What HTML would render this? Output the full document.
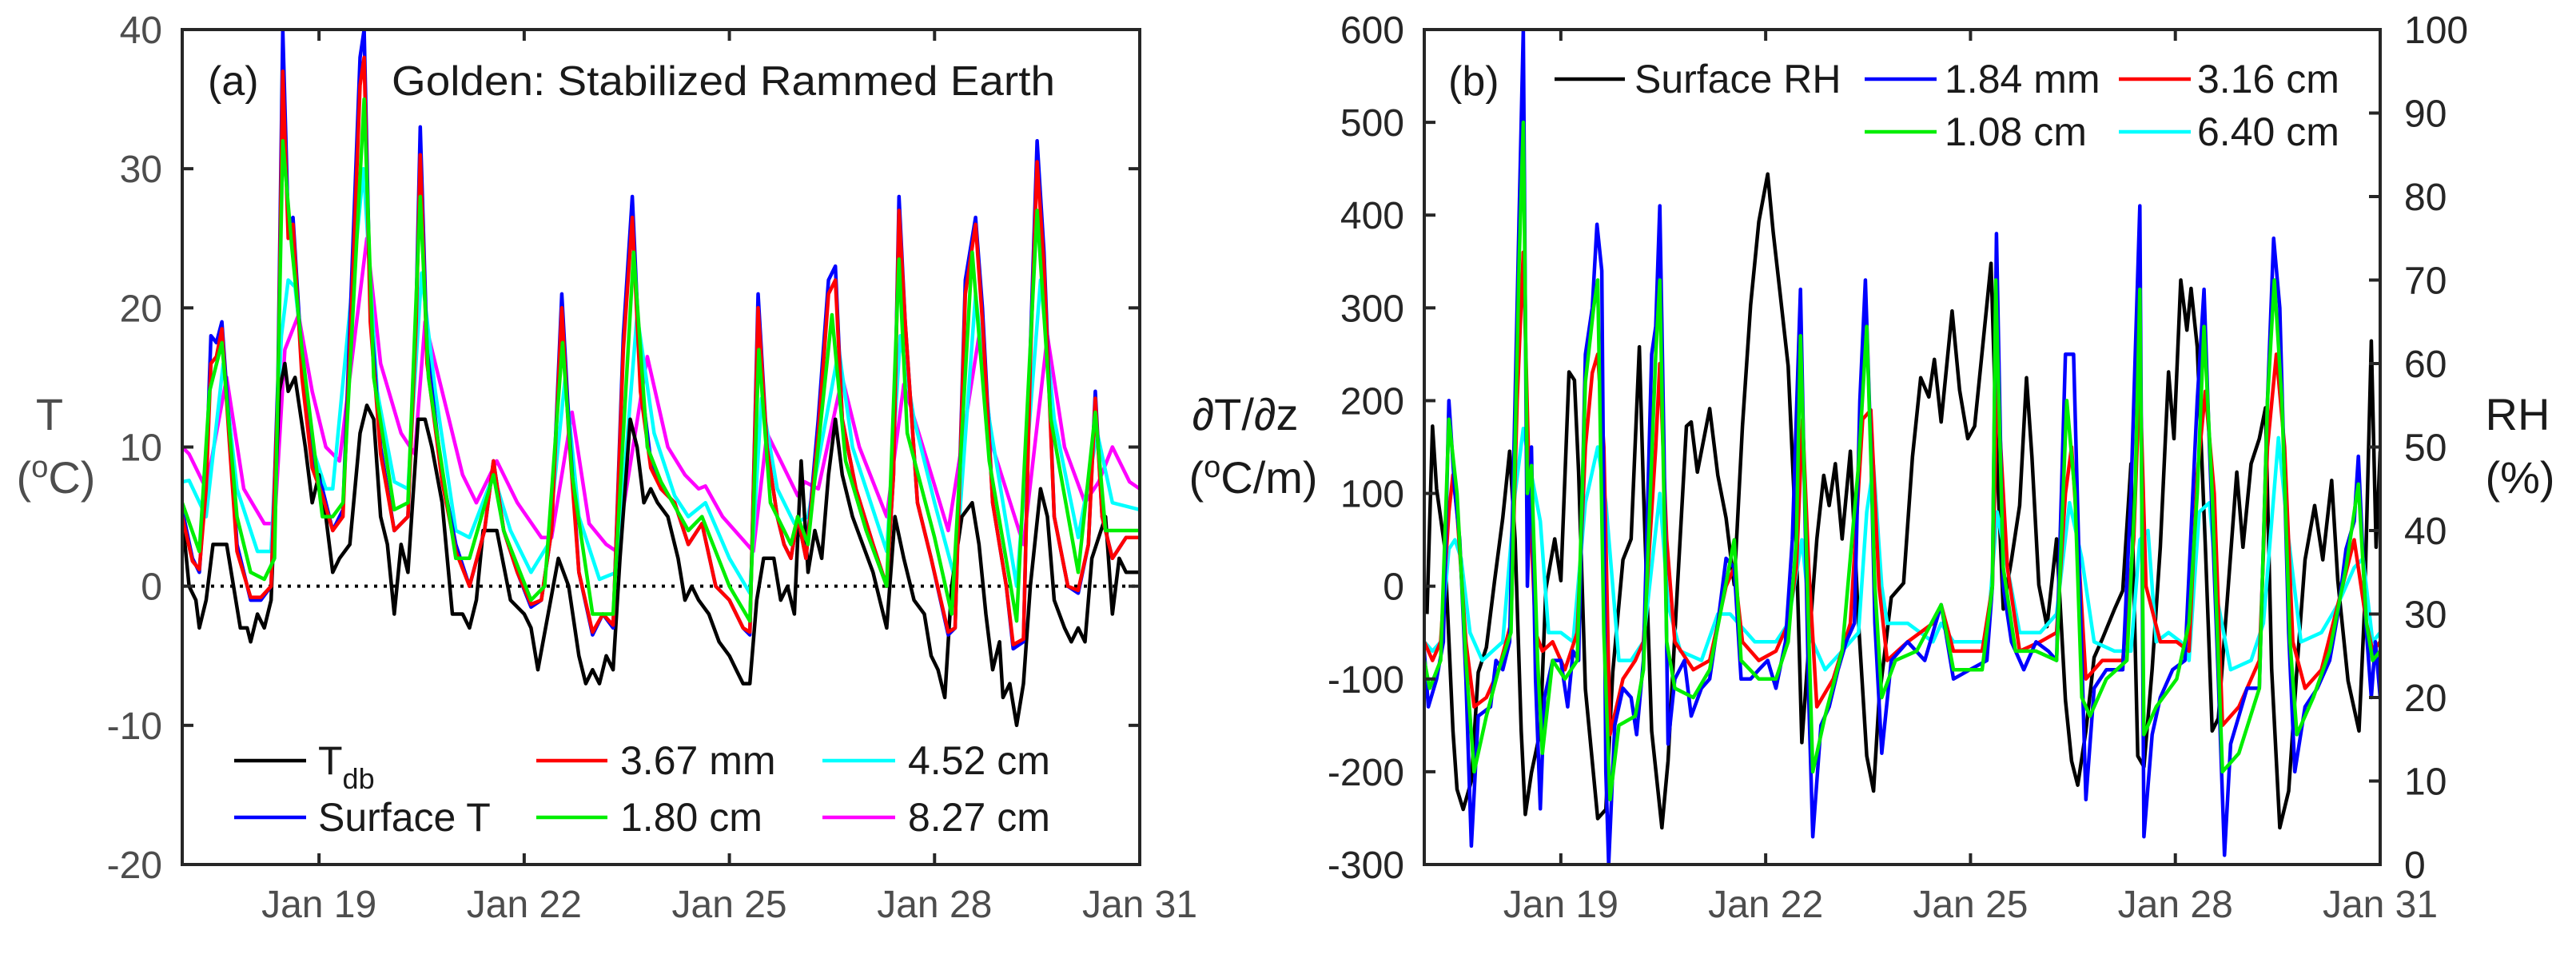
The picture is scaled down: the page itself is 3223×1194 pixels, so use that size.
<!DOCTYPE html>
<html><head><meta charset="utf-8"><style>
html,body{margin:0;padding:0;background:#fff;}
svg{display:block;font-family:"Liberation Sans",Arial,sans-serif;}
</style></head><body>
<svg id="fig" width="3223" height="1194" viewBox="0 0 3223 1194" xmlns="http://www.w3.org/2000/svg"></svg>
<script>
// ---------- Panel (a) data: [day since Jan 17, °C] ----------
const tdb = [[0,5],[0.1,0],[0.2,-1],[0.25,-3],[0.35,-1],[0.45,3],[0.65,3],[0.75,0],[0.85,-3],[0.95,-3],[1.0,-4],[1.1,-2],[1.2,-3],[1.3,-1],[1.42,14],[1.5,16],[1.55,14],[1.65,15],[1.8,10],[1.9,6],[2.0,8],[2.1,5],[2.2,1],[2.3,2],[2.45,3],[2.6,11],[2.7,13],[2.8,12],[2.9,5],[3.0,3],[3.1,-2],[3.2,3],[3.3,1],[3.45,12],[3.55,12],[3.65,10],[3.8,6],[3.95,-2],[4.1,-2],[4.2,-3],[4.3,-1],[4.4,4],[4.6,4],[4.8,-1],[5.0,-2],[5.1,-3],[5.2,-6],[5.35,-2],[5.5,2],[5.65,0],[5.8,-5],[5.9,-7],[6.0,-6],[6.1,-7],[6.2,-5],[6.3,-6],[6.4,2],[6.55,12],[6.65,10],[6.75,6],[6.85,7],[6.95,6],[7.1,5],[7.25,2],[7.35,-1],[7.45,0],[7.55,-1],[7.7,-2],[7.85,-4],[8.0,-5],[8.1,-6],[8.2,-7],[8.3,-7],[8.4,-1],[8.5,2],[8.65,2],[8.75,-1],[8.85,0],[8.95,-2],[9.05,9],[9.15,1],[9.25,4],[9.35,2],[9.45,8],[9.55,12],[9.65,8],[9.8,5],[9.95,3],[10.1,1],[10.2,-1],[10.3,-3],[10.42,5],[10.55,2],[10.7,-1],[10.85,-2],[10.95,-5],[11.05,-6],[11.15,-8],[11.25,0],[11.4,5],[11.55,6],[11.65,3],[11.75,-2],[11.85,-6],[11.95,-4],[12.0,-8],[12.1,-7],[12.2,-10],[12.3,-7],[12.4,0],[12.55,7],[12.65,5],[12.75,-1],[12.9,-3],[13.0,-4],[13.1,-3],[13.2,-4],[13.3,2],[13.5,5],[13.6,-2],[13.7,2],[13.8,1],[14,1]];
const surfT = [[0,5.5],[0.15,2],[0.25,1],[0.35,8],[0.42,18],[0.5,17.5],[0.58,19],[0.68,12],[0.8,3],[1.0,-1],[1.15,-1],[1.3,0],[1.4,15],[1.47,40],[1.55,26],[1.62,26.5],[1.75,16],[1.9,9],[2.05,7],[2.2,4],[2.35,5.5],[2.5,25],[2.6,38],[2.66,40],[2.75,20],[2.9,10],[3.1,4],[3.3,5],[3.42,20],[3.48,33],[3.58,17],[3.8,8],[4.0,3],[4.2,0],[4.42,4],[4.55,9],[4.7,4],[4.9,1],[5.1,-1.5],[5.25,-1],[5.4,4],[5.55,21],[5.65,12],[5.8,1],[6.0,-3.5],[6.15,-2],[6.3,-3],[6.45,18],[6.58,28],[6.7,15],[6.85,9],[7.0,7],[7.2,6],[7.4,3],[7.6,4.5],[7.8,0],[8.0,-1],[8.2,-3],[8.3,-3.5],[8.42,21],[8.55,10],[8.7,5],[8.8,3],[8.9,2],[9.0,5],[9.12,2],[9.3,12],[9.45,22],[9.55,23],[9.65,12],[9.85,7],[10.1,3],[10.3,0],[10.4,8],[10.48,28],[10.57,19],[10.75,6],[10.95,2],[11.2,-3.5],[11.3,-3],[11.45,22],[11.6,26.5],[11.7,20],[11.85,6],[12.05,0],[12.15,-4.5],[12.3,-4],[12.4,17],[12.5,32],[12.6,24],[12.75,5],[12.95,0],[13.1,-0.5],[13.25,3],[13.35,14],[13.45,5],[13.6,2],[13.8,3.5],[14,3.5]];
const t367mm = [[0,5],[0.15,1.8],[0.25,1.2],[0.35,7],[0.42,16],[0.5,16.5],[0.58,18.5],[0.68,11],[0.8,2.5],[1.0,-0.8],[1.15,-0.8],[1.3,0],[1.4,14],[1.47,37],[1.55,25],[1.62,26],[1.75,15],[1.9,8.5],[2.05,6.5],[2.2,4],[2.35,5],[2.5,23],[2.6,36],[2.66,38],[2.75,19],[2.9,9.5],[3.1,4],[3.3,5],[3.42,19],[3.48,31],[3.58,16],[3.8,7.5],[4.0,2.5],[4.2,0],[4.42,4],[4.55,9],[4.7,4],[4.9,1],[5.1,-1.3],[5.25,-1],[5.4,4],[5.55,20],[5.65,11],[5.8,1],[6.0,-3.3],[6.15,-2],[6.3,-2.8],[6.45,17],[6.58,26.5],[6.7,14],[6.85,8.5],[7.0,7],[7.2,6],[7.4,3],[7.6,4.5],[7.8,0],[8.0,-1],[8.2,-3],[8.3,-3.3],[8.42,20],[8.55,10],[8.7,5],[8.8,3],[8.9,2],[9.0,5],[9.12,2],[9.3,11],[9.45,21],[9.55,22],[9.65,12],[9.85,7],[10.1,3],[10.3,0],[10.4,8],[10.48,27],[10.57,19],[10.75,6],[10.95,2],[11.2,-3.3],[11.3,-3],[11.45,21],[11.6,26],[11.7,19],[11.85,6],[12.05,0],[12.15,-4.2],[12.3,-3.8],[12.4,16],[12.5,30.5],[12.6,23],[12.75,5],[12.95,0],[13.1,-0.3],[13.25,3],[13.35,13.5],[13.45,5],[13.6,2],[13.8,3.5],[14,3.5]];
const t180cm = [[0,6],[0.25,2.5],[0.4,14],[0.58,17.5],[0.8,5],[1.0,1],[1.2,0.5],[1.35,2],[1.47,32],[1.6,24.5],[1.75,17],[2.05,5],[2.2,5],[2.35,6],[2.66,35],[2.8,15],[3.1,5.5],[3.3,6],[3.48,28],[3.6,15],[4.0,2],[4.2,2],[4.55,8],[4.7,4],[5.1,-1],[5.3,0],[5.56,17.5],[5.7,8],[6.0,-2],[6.3,-2],[6.6,24],[6.8,10],[7.0,7.5],[7.4,4],[7.6,5],[8.0,0],[8.3,-2.5],[8.43,17],[8.6,6],[8.9,3],[9.0,5],[9.15,3],[9.5,19.5],[9.7,9],[10.0,4],[10.3,0],[10.48,23.5],[10.6,11],[11.0,3.5],[11.25,-2],[11.55,24],[11.8,9],[12.2,-2.5],[12.5,27],[12.7,12],[13.1,1],[13.35,12.5],[13.5,4],[14,4]];
const t452cm = [[0,7.5],[0.1,7.6],[0.35,5],[0.6,16],[0.8,7],[1.1,2.5],[1.3,2.5],[1.45,18],[1.55,22],[1.65,21.5],[1.9,10],[2.1,7],[2.2,7],[2.65,30],[2.85,14],[3.1,7.5],[3.3,7],[3.5,22.5],[3.7,14],[4.0,4],[4.2,3.5],[4.55,8],[4.8,4],[5.1,1],[5.35,3],[5.6,15],[5.8,5],[6.1,0.5],[6.35,1],[6.65,19.5],[6.9,11],[7.2,6.5],[7.4,5],[7.65,6],[8.0,2],[8.3,-0.5],[8.47,13.5],[8.7,7],[8.95,4.5],[9.15,5],[9.6,17],[9.8,10],[10.3,2.5],[10.5,18],[10.7,12],[11.0,6],[11.3,0.5],[11.6,21],[11.8,12],[12.2,0],[12.55,22],[12.75,12],[13.1,3.5],[13.38,11],[13.6,6],[14,5.5]];
const t827cm = [[0,10],[0.1,9.5],[0.35,7],[0.65,15],[0.9,7],[1.2,4.5],[1.35,4.5],[1.5,17],[1.7,19.5],[1.9,14],[2.1,10],[2.3,9],[2.7,25],[2.9,16],[3.2,11],[3.4,9.5],[3.55,19],[3.8,14],[4.1,8],[4.3,6],[4.6,9],[4.9,6],[5.25,3.5],[5.4,3.5],[5.7,12.5],[5.95,4.5],[6.2,3],[6.35,2.5],[6.8,16.5],[7.1,10],[7.35,8],[7.55,7],[7.65,7.2],[7.9,5],[8.35,2.5],[8.55,11],[8.75,9],[9.0,6.5],[9.1,7.5],[9.3,7],[9.65,15],[9.9,10],[10.3,5],[10.55,14.5],[10.8,10.5],[11.2,4],[11.65,18],[11.85,10],[12.3,3],[12.65,18],[12.9,10],[13.2,6],[13.4,7.5],[13.6,10],[13.85,7.5],[14,7]];

// ---------- Panel (b) data ----------
const surfRH = [[0.04,30],[0.12,52.5],[0.18,45],[0.30,38],[0.42,16],[0.48,9],[0.57,6.6],[0.69,10],[0.79,23],[0.91,26],[1.03,34],[1.15,41.5],[1.25,49.5],[1.33,39],[1.42,16],[1.48,6],[1.57,11],[1.70,16],[1.78,33],[1.91,39],[2.00,34],[2.12,59],[2.20,58],[2.26,47],[2.36,21],[2.54,5.5],[2.66,6.6],[2.76,23],[2.91,36.5],[3.03,39],[3.15,62],[3.21,45],[3.33,16],[3.48,4.4],[3.57,12.4],[3.69,30.6],[3.84,52.5],[3.91,53],[4.00,47],[4.18,54.6],[4.30,46.6],[4.42,41.5],[4.54,33.5],[4.66,52.5],[4.78,67],[4.90,77],[5.03,82.7],[5.11,75.8],[5.21,68.5],[5.33,59.7],[5.45,38],[5.53,14.6],[5.63,26],[5.75,39],[5.85,46.6],[5.93,43],[6.02,48],[6.12,39],[6.24,49.5],[6.36,29],[6.48,13],[6.58,8.8],[6.66,19.7],[6.84,32],[7.02,33.7],[7.15,48.8],[7.27,58.3],[7.39,56],[7.47,60.5],[7.57,53],[7.73,66.3],[7.84,56.8],[7.96,51],[8.06,52.5],[8.15,59.7],[8.30,72],[8.39,48],[8.48,30.6],[8.60,36.5],[8.72,43],[8.82,58.3],[8.90,48.8],[9.00,33.5],[9.12,28.5],[9.26,39],[9.39,19.7],[9.48,12.4],[9.57,9.5],[9.69,16],[9.81,24.8],[9.93,27],[10.11,30.6],[10.23,32.8],[10.35,48],[10.45,13],[10.54,11.7],[10.66,23.4],[10.78,38],[10.90,59],[10.98,51],[11.08,70],[11.17,64],[11.23,69],[11.32,62],[11.44,38],[11.54,16],[11.63,17.5],[11.75,30.6],[11.90,47],[11.99,38],[12.11,48],[12.23,51],[12.32,54.7],[12.41,23.4],[12.53,4.4],[12.66,8.8],[12.78,23.4],[12.90,36.5],[13.04,43],[13.16,36.5],[13.29,46],[13.38,34],[13.53,22],[13.69,16],[13.77,30.6],[13.87,62.7],[13.94,38],[14.0,49.5]];
const g184mm = [[0,-70],[0.06,-130],[0.18,-100],[0.28,-60],[0.36,200],[0.45,100],[0.52,50],[0.61,-100],[0.69,-280],[0.79,-140],[0.97,-130],[1.05,-80],[1.15,-90],[1.25,-60],[1.33,200],[1.39,400],[1.45,600],[1.51,0],[1.57,150],[1.63,-100],[1.70,-240],[1.76,-120],[1.88,-80],[2.00,-80],[2.10,-130],[2.18,-70],[2.26,-80],[2.36,250],[2.46,300],[2.53,390],[2.60,340],[2.66,-200],[2.70,-300],[2.79,-150],[2.91,-110],[3.03,-120],[3.11,-160],[3.21,-80],[3.33,250],[3.39,280],[3.45,410],[3.51,150],[3.57,-170],[3.67,-100],[3.81,-80],[3.91,-140],[4.06,-110],[4.18,-100],[4.30,-40],[4.42,30],[4.54,20],[4.64,-100],[4.78,-100],[4.90,-90],[5.03,-80],[5.15,-110],[5.29,-60],[5.39,50],[5.51,320],[5.57,100],[5.63,-120],[5.69,-270],[5.81,-150],[5.93,-130],[6.06,-90],[6.18,-60],[6.30,-40],[6.38,200],[6.46,330],[6.54,150],[6.60,-40],[6.70,-180],[6.84,-80],[7.08,-60],[7.33,-80],[7.57,-20],[7.75,-100],[7.99,-90],[8.24,-80],[8.32,0],[8.38,380],[8.48,0],[8.60,-60],[8.78,-90],[8.96,-60],[9.14,-70],[9.26,-80],[9.39,250],[9.51,250],[9.60,0],[9.69,-230],[9.81,-110],[9.99,-90],[10.23,-90],[10.35,100],[10.48,410],[10.54,-270],[10.66,-160],[10.78,-120],[10.96,-90],[11.14,-80],[11.32,200],[11.42,320],[11.50,150],[11.63,-100],[11.72,-290],[11.81,-170],[11.93,-140],[12.05,-110],[12.23,-110],[12.35,200],[12.44,375],[12.53,300],[12.66,-50],[12.75,-200],[12.90,-130],[13.08,-110],[13.26,-80],[13.38,-30],[13.50,40],[13.62,70],[13.68,140],[13.80,-50],[13.87,-120],[13.93,-60],[14.0,-120]];
const g108cm = [[0,-80],[0.08,-110],[0.24,-80],[0.36,180],[0.48,100],[0.61,-80],[0.73,-200],[0.91,-140],[1.09,-90],[1.27,-50],[1.39,350],[1.45,500],[1.51,100],[1.57,130],[1.66,-80],[1.73,-180],[1.88,-80],[2.06,-100],[2.24,-80],[2.36,220],[2.48,300],[2.54,330],[2.63,-50],[2.72,-230],[2.85,-150],[3.09,-140],[3.21,-90],[3.39,250],[3.45,330],[3.55,-60],[3.67,-110],[3.94,-120],[4.18,-90],[4.36,-20],[4.54,50],[4.64,-80],[4.90,-100],[5.15,-100],[5.33,-60],[5.45,50],[5.51,270],[5.61,0],[5.69,-200],[5.87,-140],[6.12,-70],[6.36,130],[6.48,280],[6.60,0],[6.70,-120],[6.90,-80],[7.21,-70],[7.57,-20],[7.75,-90],[8.17,-90],[8.32,0],[8.37,330],[8.48,20],[8.66,-70],[8.96,-70],[9.26,-80],[9.41,200],[9.53,100],[9.63,-120],[9.75,-140],[9.99,-100],[10.29,-80],[10.41,100],[10.48,320],[10.54,-160],[10.72,-130],[11.02,-100],[11.20,-40],[11.32,100],[11.42,280],[11.54,100],[11.69,-200],[11.93,-180],[12.23,-110],[12.35,200],[12.45,330],[12.56,200],[12.68,-60],[12.78,-160],[13.02,-120],[13.26,-70],[13.50,20],[13.68,110],[13.80,-40],[13.89,-80],[14,-70]];
const g316cm = [[0,-60],[0.12,-80],[0.24,-60],[0.36,80],[0.42,120],[0.48,80],[0.61,-60],[0.73,-130],[0.91,-120],[1.09,-90],[1.27,-40],[1.36,200],[1.45,360],[1.54,100],[1.63,-50],[1.73,-70],[1.88,-60],[2.06,-90],[2.24,-50],[2.36,150],[2.46,230],[2.54,250],[2.63,150],[2.72,-160],[2.91,-100],[3.09,-80],[3.21,-60],[3.39,150],[3.45,240],[3.55,50],[3.67,-60],[3.94,-90],[4.18,-80],[4.42,0],[4.54,20],[4.66,-60],[4.90,-80],[5.15,-70],[5.33,-40],[5.45,20],[5.54,180],[5.63,20],[5.75,-130],[5.99,-100],[6.24,-40],[6.42,180],[6.54,190],[6.66,0],[6.78,-80],[7.08,-60],[7.45,-40],[7.57,-20],[7.75,-70],[8.17,-70],[8.32,0],[8.39,220],[8.54,20],[8.72,-70],[9.02,-60],[9.26,-50],[9.39,100],[9.48,150],[9.57,50],[9.69,-100],[9.93,-80],[10.23,-80],[10.39,50],[10.48,230],[10.57,0],[10.78,-60],[11.02,-60],[11.20,-70],[11.32,120],[11.44,210],[11.57,100],[11.69,-150],[11.93,-130],[12.23,-80],[12.35,150],[12.48,250],[12.60,150],[12.72,-60],[12.90,-110],[13.14,-90],[13.38,-20],[13.62,50],[13.80,-40],[13.89,-70],[14,-60]];
const g640cm = [[0,-60],[0.12,-70],[0.24,-60],[0.36,40],[0.45,50],[0.54,30],[0.67,-50],[0.85,-80],[1.15,-60],[1.33,100],[1.45,170],[1.57,120],[1.70,70],[1.82,-50],[2.00,-50],[2.18,-60],[2.36,90],[2.54,150],[2.66,90],[2.85,-80],[3.03,-80],[3.21,-60],[3.45,100],[3.57,-20],[3.75,-70],[4.06,-80],[4.30,-30],[4.48,-30],[4.60,-40],[4.84,-60],[5.15,-60],[5.33,-40],[5.53,50],[5.69,-60],[5.87,-90],[6.12,-70],[6.36,-50],[6.48,80],[6.58,130],[6.70,0],[6.78,-40],[7.08,-40],[7.45,-60],[7.57,-40],[7.75,-60],[7.99,-60],[8.24,-60],[8.39,80],[8.54,20],[8.72,-50],[9.02,-50],[9.26,-30],[9.45,90],[9.63,30],[9.81,-60],[10.11,-70],[10.35,-70],[10.48,50],[10.60,60],[10.72,-60],[10.90,-50],[11.08,-60],[11.20,-80],[11.35,80],[11.50,90],[11.63,-20],[11.81,-90],[12.11,-80],[12.29,-40],[12.51,160],[12.66,50],[12.84,-60],[13.14,-50],[13.38,-20],[13.62,20],[13.75,30],[13.89,-60],[14,-50]];

// ---------- axis tick labels ----------
const dateTicks = [2,5,8,11,14];
const dateLabels = ["Jan 19","Jan 22","Jan 25","Jan 28","Jan 31"];
const tTicks = [-20,-10,0,10,20,30,40];
const gradTicks = [-300,-200,-100,0,100,200,300,400,500,600];
const rhTicks = [0,10,20,30,40,50,60,70,80,90,100];

const NS = "http://www.w3.org/2000/svg";
const svg = document.getElementById('fig');
function mk(tag, attrs, parent){ const e=document.createElementNS(NS,tag); for(const k in attrs) e.setAttribute(k,attrs[k]); (parent||svg).appendChild(e); return e; }

const PA = {x0:228, x1:1426, y0:37, y1:1082};
const PB = {x0:1782, x1:2978, y0:37, y1:1082};
const xA = d => PA.x0 + d/14*(PA.x1-PA.x0);
const xB = d => PB.x0 + d/14*(PB.x1-PB.x0);
const yA = v => PA.y1 - (v+20)/60*(PA.y1-PA.y0);
const yB = v => PB.y1 - (v+300)/900*(PB.y1-PB.y0);
const yRH = v => PB.y1 - v/100*(PB.y1-PB.y0);

function series(data, xf, yf, color, name, w){
  const p = mk('path',{d:data.map((q,i)=>(i?'L':'M')+xf(q[0]).toFixed(1)+' '+yf(q[1]).toFixed(1)).join(''),fill:'none',stroke:color,'stroke-width':w||4.5,'stroke-linejoin':'round'});
  
  
  return p;
}
function text(x,y,s,opts,name){
  const t = mk('text',Object.assign({x:x,y:y},opts||{}));
  t.textContent = s;
  
  
  return t;
}

// ----- Panel A -----
const clipA = mk('clipPath',{id:'ca'}); mk('rect',{x:PA.x0,y:PA.y0,width:PA.x1-PA.x0,height:PA.y1-PA.y0},clipA);
const gA = mk('g',{'clip-path':'url(#ca)'});


const zl = mk('line',{x1:PA.x0,x2:PA.x1,y1:yA(0),y2:yA(0),stroke:'#000','stroke-width':4,'stroke-dasharray':'4 8'},gA);


gA.appendChild(series(t827cm,xA,yA,'#ff00ff','series-8-27-cm'));
gA.appendChild(series(t452cm,xA,yA,'#00ffff','series-4-52-cm'));
gA.appendChild(series(tdb,xA,yA,'#000000','series-tdb'));
gA.appendChild(series(surfT,xA,yA,'#0000ff','series-surface-t'));
gA.appendChild(series(t367mm,xA,yA,'#ff0000','series-3-67-mm'));
gA.appendChild(series(t180cm,xA,yA,'#00ee00','series-1-80-cm'));

// ----- Panel B -----
const clipB = mk('clipPath',{id:'cb'}); mk('rect',{x:PB.x0,y:PB.y0,width:PB.x1-PB.x0,height:PB.y1-PB.y0},clipB);
const gB = mk('g',{'clip-path':'url(#cb)'});


gB.appendChild(series(surfRH,xB,yRH,'#000000','series-surface-rh'));
gB.appendChild(series(g640cm,xB,yB,'#00ffff','series-6-40-cm'));
gB.appendChild(series(g316cm,xB,yB,'#ff0000','series-3-16-cm'));
gB.appendChild(series(g184mm,xB,yB,'#0000ff','series-1-84-mm'));
gB.appendChild(series(g108cm,xB,yB,'#00ee00','series-1-08-cm'));

// ----- axes frames & ticks -----
function frame(P,name){
  const r = mk('rect',{x:P.x0,y:P.y0,width:P.x1-P.x0,height:P.y1-P.y0,fill:'none',stroke:'#262626','stroke-width':4});
  
  
}
frame(PA,'panel-a-axes-frame');
frame(PB,'panel-b-axes-frame');
const TL = 14;
dateTicks.forEach((d,i)=>{
  [[xA,PA],[xB,PB]].forEach(([xf,P],k)=>{
    const x=xf(d);
    mk('line',{x1:x,x2:x,y1:P.y1,y2:P.y1-TL,stroke:'#262626','stroke-width':4});
    mk('line',{x1:x,x2:x,y1:P.y0,y2:P.y0+TL,stroke:'#262626','stroke-width':4});
    text(x,1148,dateLabels[i],{'font-size':48,fill:'#4d4d4d','text-anchor':'middle'},(k?'panel-b-':'panel-a-')+'x-tick-label');
  });
});
tTicks.forEach(v=>{
  const y=yA(v);
  mk('line',{x1:PA.x0,x2:PA.x0+TL,y1:y,y2:y,stroke:'#262626','stroke-width':4});
  mk('line',{x1:PA.x1,x2:PA.x1-TL,y1:y,y2:y,stroke:'#262626','stroke-width':4});
  text(203,y+17,String(v),{'font-size':48,fill:'#4d4d4d','text-anchor':'end'},'panel-a-y-tick-label');
});
gradTicks.forEach(v=>{
  const y=yB(v);
  mk('line',{x1:PB.x0,x2:PB.x0+TL,y1:y,y2:y,stroke:'#262626','stroke-width':4});
  text(1757,y+17,String(v),{'font-size':48,fill:'#262626','text-anchor':'end'},'panel-b-left-tick-label');
});
rhTicks.forEach(v=>{
  const y=yRH(v);
  mk('line',{x1:PB.x1,x2:PB.x1-TL,y1:y,y2:y,stroke:'#262626','stroke-width':4});
  text(3008,y+17,String(v),{'font-size':48,fill:'#262626','text-anchor':'start'},'panel-b-right-tick-label');
});

// axis titles
text(62,538,'T',{'font-size':56,fill:'#4d4d4d','text-anchor':'middle'},'panel-a-y-title');
const tc = text(70,617,'',{'font-size':56,fill:'#4d4d4d','text-anchor':'middle'},'panel-a-y-unit');
tc.innerHTML='(<tspan dy="-20" font-size="38">o</tspan><tspan dy="20">C)</tspan>';
text(1558,538,'∂T/∂z',{'font-size':56,fill:'#1a1a1a','text-anchor':'middle'},'panel-b-left-y-title');
const tm = text(1568,617,'',{'font-size':56,fill:'#1a1a1a','text-anchor':'middle'},'panel-b-left-y-unit');
tm.innerHTML='(<tspan dy="-20" font-size="38">o</tspan><tspan dy="20">C/m)</tspan>';
text(3150,538,'RH',{'font-size':56,fill:'#1a1a1a','text-anchor':'middle'},'panel-b-right-y-title');
text(3153,617,'(%)',{'font-size':56,fill:'#1a1a1a','text-anchor':'middle'},'panel-b-right-y-unit');

// panel titles
text(260,119,'(a)',{'font-size':52,fill:'#1a1a1a'},'panel-a-label');
text(490,119,'Golden: Stabilized Rammed Earth',{'font-size':52,fill:'#1a1a1a',textLength:830,lengthAdjust:'spacingAndGlyphs'},'panel-a-title');
text(1812,119,'(b)',{'font-size':52,fill:'#1a1a1a'},'panel-b-label');

// legends
function legendEntry(x1,x2,tx,y,color,label,name,sub){
  const g = mk('g',{});
  
  
  mk('line',{x1:x1,x2:x2,y1:y,y2:y,stroke:color,'stroke-width':4.5},g);
  const t = mk('text',{x:tx,y:y+17,'font-size':50,fill:'#1a1a1a'},g);
  t.textContent = label;
  if(sub){ const s=mk('tspan',{dy:18,'font-size':36},t); s.textContent=sub; }
}
legendEntry(293,383,398,952,'#000000','T','legend-entry-tdb','db');
legendEntry(293,383,398,1023,'#0000ff','Surface T','legend-entry-surface-t');
legendEntry(671,760,776,952,'#ff0000','3.67 mm','legend-entry-3-67-mm');
legendEntry(671,760,776,1023,'#00ee00','1.80 cm','legend-entry-1-80-cm');
legendEntry(1029,1120,1136,952,'#00ffff','4.52 cm','legend-entry-4-52-cm');
legendEntry(1029,1120,1136,1023,'#ff00ff','8.27 cm','legend-entry-8-27-cm');

legendEntry(1945,2033,2045,99,'#000000','Surface RH','legend-entry-surface-rh');
legendEntry(2333,2423,2433,99,'#0000ff','1.84 mm','legend-entry-1-84-mm');
legendEntry(2651,2741,2749,99,'#ff0000','3.16 cm','legend-entry-3-16-cm');
legendEntry(2333,2423,2433,165,'#00ee00','1.08 cm','legend-entry-1-08-cm');
legendEntry(2651,2741,2749,165,'#00ffff','6.40 cm','legend-entry-6-40-cm');
</script>
</body></html>
